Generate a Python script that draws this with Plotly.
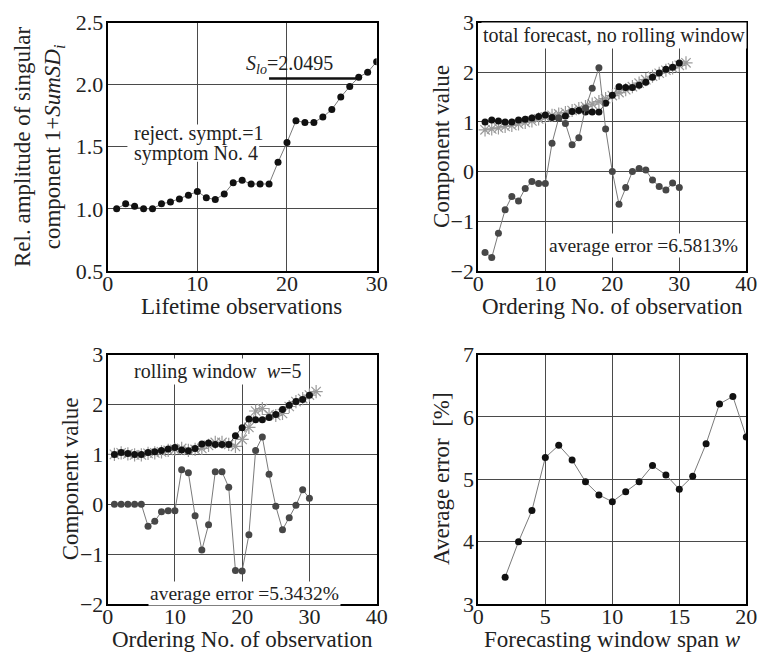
import plotly.graph_objects as go

# ---- data -------------------------------------------------------------
obs = list(range(1, 31))
amplitude = [1.00, 1.04, 1.02, 1.00, 1.00, 1.04, 1.055, 1.08, 1.11, 1.14,
             1.09, 1.075, 1.12, 1.21, 1.23, 1.20, 1.20, 1.20, 1.375, 1.535,
             1.71, 1.695, 1.695, 1.74, 1.80, 1.90, 1.985, 2.06, 2.10, 2.185]
s_lo = 2.0495
s_lo_span = [18, 27.7]

fc_x = list(range(1, 32))
total_forecast = [0.84, 0.86, 0.88, 0.91, 0.93, 0.96, 0.99, 1.02, 1.06, 1.10,
                  1.13, 1.16, 1.19, 1.23, 1.27, 1.31, 1.36, 1.41, 1.47, 1.53,
                  1.59, 1.65, 1.71, 1.78, 1.85, 1.92, 1.98, 2.04, 2.09, 2.14, 2.19]
total_error = [-1.63, -1.73, -1.24, -0.77, -0.50, -0.59, -0.34, -0.20, -0.24, -0.24,
               0.57, 1.08, 0.97, 0.54, 0.68, 1.28, 1.68, 2.09, 0.86, 0.0,
               -0.66, -0.32, 0.0, 0.06, 0.03, -0.17, -0.30, -0.37, -0.23, -0.32]

rolling_forecast = [1.00, 1.03, 1.01, 0.99, 0.99, 1.02, 1.03, 1.05, 1.08, 1.10,
                    1.12, 1.08, 1.10, 1.12, 1.18, 1.24, 1.24, 1.20, 1.16, 1.30,
                    1.54, 1.87, 1.92, 1.80, 1.78, 1.82, 1.96, 2.06, 2.12, 2.19, 2.26]
rolling_error = [0.0, 0.0, 0.0, 0.0, 0.0, -0.44, -0.34, -0.15, -0.13, -0.13,
                 0.69, 0.63, -0.23, -0.92, -0.41, 0.65, 0.65, 0.34, -1.33, -1.34,
                 -0.61, 1.08, 1.35, 0.60, -0.04, -0.51, -0.27, -0.02, 0.29, 0.12]

span_w = list(range(2, 21))
avg_error = [3.43, 4.00, 4.50, 5.35, 5.545, 5.31, 4.96, 4.75, 4.64, 4.80,
             4.96, 5.22, 5.07, 4.84, 5.05, 5.57, 6.21, 6.33, 5.68]

# ---- styling -----------------------------------------------------------
FONT = "Liberation Serif"
DOT = dict(symbol="circle", size=7, color="#111111")
ERR_DOT = dict(symbol="circle", size=7, color="#474747")
STAR = dict(symbol="asterisk-open", size=11, color="#9a9a9a",
            line=dict(color="#9a9a9a", width=1.2))
LINE = dict(color="#7a7a7a", width=1)

fig = go.Figure()

# panel 1: relative amplitude
fig.add_trace(go.Scatter(x=obs, y=amplitude, mode="lines+markers",
                         marker=DOT, line=LINE, xaxis="x", yaxis="y"))

# panel 2: total forecast
fig.add_trace(go.Scatter(x=fc_x, y=total_forecast, mode="lines+markers",
                         marker=STAR, line=dict(color="#a0a0a0", width=1),
                         xaxis="x2", yaxis="y2"))
fig.add_trace(go.Scatter(x=obs, y=amplitude, mode="lines+markers",
                         marker=DOT, line=dict(color="#555555", width=1),
                         xaxis="x2", yaxis="y2"))
fig.add_trace(go.Scatter(x=obs, y=total_error, mode="lines+markers",
                         marker=ERR_DOT, line=LINE, xaxis="x2", yaxis="y2"))

# panel 3: rolling window forecast
fig.add_trace(go.Scatter(x=fc_x, y=rolling_forecast, mode="lines+markers",
                         marker=STAR, line=dict(color="#a0a0a0", width=1),
                         xaxis="x3", yaxis="y3"))
fig.add_trace(go.Scatter(x=obs, y=amplitude, mode="lines+markers",
                         marker=DOT, line=dict(color="#555555", width=1),
                         xaxis="x3", yaxis="y3"))
fig.add_trace(go.Scatter(x=obs, y=rolling_error, mode="lines+markers",
                         marker=ERR_DOT, line=LINE, xaxis="x3", yaxis="y3"))

# panel 4: average error vs window span
fig.add_trace(go.Scatter(x=span_w, y=avg_error, mode="lines+markers",
                         marker=DOT, line=LINE, xaxis="x4", yaxis="y4"))


def axis(domain, rng, dtick, anchor, standoff, fmt=None):
    a = dict(domain=domain, range=rng, dtick=dtick, tick0=rng[0], anchor=anchor,
             showline=True, linecolor="black", linewidth=2, mirror=True,
             showgrid=True, gridcolor="#4a4a4a", gridwidth=1, zeroline=False,
             ticks="", ticklen=0, ticklabelstandoff=standoff,
             tickfont=dict(family=FONT, size=22, color="#222222"))
    if fmt:
        a["tickformat"] = fmt
    return a


XL = [104 / 770, 379 / 770]
XR = [483 / 770, 757 / 770]
YT = [1 - 269 / 667, 1 - 11 / 667]
YB = [1 - 615 / 667, 1 - 356 / 667]

fig.update_layout(
    width=770, height=667, showlegend=False,
    margin=dict(l=0, r=0, t=0, b=0),
    paper_bgcolor="white", plot_bgcolor="white",
    font=dict(family=FONT, color="#222222"),
    xaxis=axis(XL, [0, 30], 10, "y", -8),
    yaxis=axis(YT, [0.5, 2.5], 0.5, "x", -2, ".1f"),
    xaxis2=axis(XR, [0, 40], 10, "y2", -8),
    yaxis2=axis(YT, [-2, 3], 1, "x2", -2),
    xaxis3=axis(XL, [0, 40], 10, "y3", -8),
    yaxis3=axis(YB, [-2, 3], 1, "x3", -2),
    xaxis4=axis(XR, [0, 20], 5, "y4", -8),
    yaxis4=axis(YB, [3, 7], 1, "x4", -2),
)

# threshold line S_lo
fig.add_shape(type="line", xref="x", yref="y", x0=s_lo_span[0], x1=s_lo_span[1],
              y0=s_lo, y1=s_lo, line=dict(color="#111111", width=2.5))

# white patch behind the two-line note so the grid does not run through it
fig.add_shape(type="rect", xref="x", yref="y", x0=2.2, x1=16.9, y0=1.38, y1=1.68,
              fillcolor="white", line=dict(width=0), layer="between")

ann = []


def txt(text, x, y, xref, yref, size=19, xanchor="center", bg="white"):
    ann.append(dict(text=text, x=x, y=y, xref=xref, yref=yref, showarrow=False,
                    xanchor=xanchor, yanchor="middle", bgcolor=bg,
                    font=dict(family=FONT, size=size, color="#222222")))


NOBG = "rgba(0,0,0,0)"

# in-plot labels
txt("<i>S</i><sub><i>lo</i></sub>=2.0495", 20.3, 2.16, "x", "y", size=20, bg=NOBG)
txt("reject. sympt.=1", 2.7, 1.605, "x", "y", size=20, xanchor="left", bg=NOBG)
txt("symptom No. 4", 2.7, 1.445, "x", "y", size=20, xanchor="left", bg=NOBG)
txt("total forecast, no rolling window", 20.2, 2.73, "x2", "y2", size=20)
txt("average error =6.5813%", 24.7, -1.48, "x2", "y2", size=19.5)
txt("rolling window  <i>w</i>=5", 16.3, 2.66, "x3", "y3", size=20)
txt("average error =5.3432%", 20.3, -1.8, "x3", "y3", size=19.5)


# axis titles
def title(text, x, y, angle=0):
    ann.append(dict(text=text, x=x, y=y, xref="paper", yref="paper",
                    showarrow=False, textangle=angle, xanchor="center",
                    yanchor="middle",
                    font=dict(family=FONT, size=23, color="#222222")))


title("Lifetime observations", 241 / 770, 1 - 306 / 667)
title("Ordering No. of observation", 620 / 770, 1 - 306 / 667)
title("Ordering No. of observation", 242 / 770, 1 - 652 / 667)
title("Forecasting window span <i>w</i>", 620 / 770, 1 - 652 / 667)
title("Rel. amplitude of singular<br>component 1+<i>SumSD</i><sub><i>i</i></sub>",
      34 / 770, 1 - 140 / 667, -90)
title("Component value", 446 / 770, 1 - 140 / 667, -90)
title("Component value", 66 / 770, 1 - 485 / 667, -90)
title("Average error  [%]", 446 / 770, 1 - 485 / 667, -90)

fig.update_layout(annotations=ann)
fig.write_html("out.html")
